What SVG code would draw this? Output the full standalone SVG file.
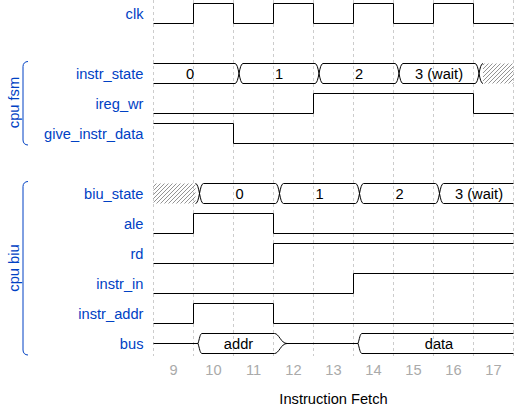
<svg xmlns="http://www.w3.org/2000/svg" width="531" height="409" viewBox="0 0 531 409">
<defs>
<pattern id="hatch" patternUnits="userSpaceOnUse" width="4" height="4">
<path d="M-1,1 L1,-1 M0,4 L4,0 M3,5 L5,3" stroke="#666" stroke-width="0.7"/>
</pattern>
</defs>
<style>
text{font-family:"Liberation Sans",Arial,sans-serif;font-size:14.67px}
.lbl{fill:#0041c4;text-anchor:end}
.grp{fill:#0041c4;text-anchor:middle}
.dat{fill:#000;text-anchor:middle}
.num{fill:#aaa;text-anchor:middle}
.w{fill:none;stroke:#000;stroke-width:1}
.br{fill:none;stroke:#0041c4;stroke-width:1}
.grid line{stroke:#ccc;stroke-width:1;stroke-dasharray:3 3}
</style>
<rect width="531" height="409" fill="#fff"/>
<g id="grid" class="grid">
<line x1="153.5" y1="0" x2="153.5" y2="356"/>
<line x1="193.5" y1="0" x2="193.5" y2="356"/>
<line x1="233.5" y1="0" x2="233.5" y2="356"/>
<line x1="273.5" y1="0" x2="273.5" y2="356"/>
<line x1="313.5" y1="0" x2="313.5" y2="356"/>
<line x1="353.5" y1="0" x2="353.5" y2="356"/>
<line x1="393.5" y1="0" x2="393.5" y2="356"/>
<line x1="433.5" y1="0" x2="433.5" y2="356"/>
<line x1="473.5" y1="0" x2="473.5" y2="356"/>
<line x1="513.5" y1="0" x2="513.5" y2="356"/>
</g>
<g id="groups">
<path class="br" d="M28,61.5 C25,61.5 23,63.5 23,66.5 V140 C23,143 25,145 28,145"/>
<text class="grp" transform="translate(18.5,102.5) rotate(-90)">cpu fsm</text>
<path class="br" d="M28,181.5 C25,181.5 23,183.5 23,186.5 V350 C23,353 25,355 28,355"/>
<text class="grp" transform="translate(18.5,268) rotate(-90)">cpu biu</text>
</g>
<g id="clk">
<text class="lbl" x="143.5" y="18.5">clk</text>
<path class="w" d="M153.5,23.5 H193.5 V3.5 H233.5 V23.5 H273.5 V3.5 H313.5 V23.5 H353.5 V3.5 H393.5 V23.5 H433.5 V3.5 H473.5 V23.5 H513.5"/>
</g>
<g id="instr_state">
<text class="lbl" x="143.5" y="78.5">instr_state</text>
<rect x="483" y="63.5" width="30.5" height="20" fill="url(#hatch)"/>
<path class="w" d="M153.5,63.5 H235 C239,63.5 239,83.5 243,83.5 H315 C319,83.5 319,63.5 323,63.5 H395 C399,63.5 399,83.5 403,83.5 H475 C479,83.5 479,63.5 483,63.5"/>
<path class="w" d="M153.5,83.5 H235 C239,83.5 239,63.5 243,63.5 H315 C319,63.5 319,83.5 323,83.5 H395 C399,83.5 399,63.5 403,63.5 H475 C479,63.5 479,83.5 483,83.5"/>
<text class="dat" x="190" y="78.5">0</text>
<text class="dat" x="279" y="78.5">1</text>
<text class="dat" x="359" y="78.5">2</text>
<text class="dat" x="439" y="78.5">3 (wait)</text>
</g>
<g id="ireg_wr">
<text class="lbl" x="143.5" y="108.5">ireg_wr</text>
<path class="w" d="M153.5,113.5 H313.5 V93.5 H473.5 V113.5 H513.5"/>
</g>
<g id="give_instr_data">
<text class="lbl" x="143.5" y="138.5">give_instr_data</text>
<path class="w" d="M153.5,123.5 H233.5 V143.5 H513.5"/>
</g>
<g id="biu_state">
<text class="lbl" x="143.5" y="198.5">biu_state</text>
<rect x="153.5" y="183.5" width="42" height="20" fill="url(#hatch)"/>
<path class="w" d="M195.5,183.5 C199.5,183.5 199.5,203.5 203.5,203.5 H275.5 C279.5,203.5 279.5,183.5 283.5,183.5 H355.5 C359.5,183.5 359.5,203.5 363.5,203.5 H435.5 C439.5,203.5 439.5,183.5 443.5,183.5 H513.5"/>
<path class="w" d="M195.5,203.5 C199.5,203.5 199.5,183.5 203.5,183.5 H275.5 C279.5,183.5 279.5,203.5 283.5,203.5 H355.5 C359.5,203.5 359.5,183.5 363.5,183.5 H435.5 C439.5,183.5 439.5,203.5 443.5,203.5 H513.5"/>
<text class="dat" x="239.5" y="198.5">0</text>
<text class="dat" x="319.5" y="198.5">1</text>
<text class="dat" x="399.5" y="198.5">2</text>
<text class="dat" x="479" y="198.5">3 (wait)</text>
</g>
<g id="ale">
<text class="lbl" x="143.5" y="228.5">ale</text>
<path class="w" d="M153.5,233.5 H193.5 V213.5 H273.5 V233.5 H513.5"/>
</g>
<g id="rd">
<text class="lbl" x="143.5" y="258.5">rd</text>
<path class="w" d="M153.5,263.5 H273.5 V243.5 H513.5"/>
</g>
<g id="instr_in">
<text class="lbl" x="143.5" y="288.5">instr_in</text>
<path class="w" d="M153.5,293.5 H353.5 V273.5 H513.5"/>
</g>
<g id="instr_addr">
<text class="lbl" x="143.5" y="318.5">instr_addr</text>
<path class="w" d="M153.5,323.5 H193.5 V303.5 H273.5 V323.5 H513.5"/>
</g>
<g id="bus">
<text class="lbl" x="143.5" y="348.5">bus</text>
<path class="w" d="M153.5,343.5 H198 C199.5,339 200,333.5 202,333.5 H274.5 C279,333.5 281,343.5 287,343.5 H358 C359.5,339 360,333.5 362,333.5 H513.5"/>
<path class="w" d="M198,343.5 C199.5,348 200,353.5 202,353.5 H274.5 C279,353.5 281,343.5 287,343.5"/>
<path class="w" d="M358,343.5 C359.5,348 360,353.5 362,353.5 H513.5"/>
<text class="dat" x="238.5" y="348.5">addr</text>
<text class="dat" x="439" y="348.5">data</text>
</g>
<g id="axis">
<text class="num" x="173.5" y="374.5">9</text>
<text class="num" x="213.5" y="374.5">10</text>
<text class="num" x="253.5" y="374.5">11</text>
<text class="num" x="293.5" y="374.5">12</text>
<text class="num" x="333.5" y="374.5">13</text>
<text class="num" x="373.5" y="374.5">14</text>
<text class="num" x="413.5" y="374.5">15</text>
<text class="num" x="453.5" y="374.5">16</text>
<text class="num" x="493.5" y="374.5">17</text>
</g>
<g id="title">
<text class="dat" x="333.5" y="403.5">Instruction Fetch</text>
</g>
</svg>
